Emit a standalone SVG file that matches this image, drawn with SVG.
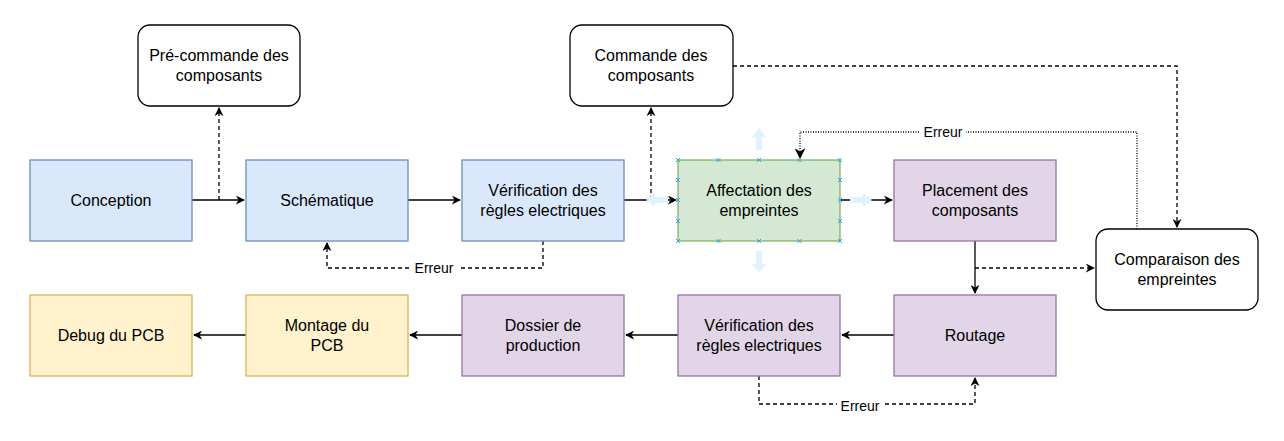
<svg xmlns="http://www.w3.org/2000/svg" width="1284" height="441" viewBox="0 0 1284 441">
<defs>
<style>
.n{stroke-width:1.3}
.blue{fill:#dae8fc;stroke:#6c8ebf}
.green{fill:#d5e8d4;stroke:#82b366}
.purple{fill:#e1d5e7;stroke:#9673a6}
.yellow{fill:#fff2cc;stroke:#d6b656}
.white{fill:#ffffff;stroke:#000000}
text{font-family:"Liberation Sans",Arial,sans-serif;font-size:16px;fill:#000;text-anchor:middle}
.lbl{font-size:14px}
.e{fill:none;stroke:#000;stroke-width:1.3}
.dash{stroke-dasharray:4,3}
.dot{stroke-dasharray:1,1.5}
.hx{stroke:#29a9e8;stroke-width:1}
.ha{fill:#dff2fd}
</style>
<marker id="ar" viewBox="0 0 10 10" refX="9" refY="5" markerWidth="9" markerHeight="9" markerUnits="userSpaceOnUse" orient="auto">
<path d="M0,0 L10,5 L0,10 L3,5 Z" fill="#000"/>
</marker>
<marker id="ar2" viewBox="0 0 10 10" refX="9" refY="5" markerWidth="11" markerHeight="11" markerUnits="userSpaceOnUse" orient="auto">
<path d="M0,0 L10,5 L0,10 L3,5 Z" fill="#000"/>
</marker>
</defs>

<g id="edges">
<path class="e" d="M192,200 H244" marker-end="url(#ar)"/>
<path class="e dash" d="M219,200 V108" marker-end="url(#ar)"/>
<path class="e" d="M408,200 H460" marker-end="url(#ar)"/>
<path class="e" d="M624,200 H676" marker-end="url(#ar)"/>
<path class="e dash" d="M651,200 V108" marker-end="url(#ar)"/>
<path class="e" d="M840,200 H892" marker-end="url(#ar)"/>
<path class="e dash" d="M543,241 V268 H327 V243" marker-end="url(#ar)"/>
<path class="e" d="M975,241 V293" marker-end="url(#ar)"/>
<path class="e dash" d="M975,268 H1094" marker-end="url(#ar)"/>
<path class="e dash" d="M733,66 H1177 V227" marker-end="url(#ar)"/>
<path class="e dot" d="M1137,229 V132 H800 V158" marker-end="url(#ar2)"/>
<path class="e" d="M894,335 H842" marker-end="url(#ar)"/>
<path class="e" d="M678,335 H626" marker-end="url(#ar)"/>
<path class="e" d="M462,335 H410" marker-end="url(#ar)"/>
<path class="e" d="M246,335 H194" marker-end="url(#ar)"/>
<path class="e dash" d="M759,376 V404 H975 V378" marker-end="url(#ar)"/>
<rect x="412" y="261" width="46" height="15" fill="#fff"/>
<text class="lbl" x="434" y="273">Erreur</text>
<rect x="920" y="125" width="46" height="15" fill="#fff"/>
<text class="lbl" x="943" y="137">Erreur</text>
<rect x="837" y="398" width="46" height="15" fill="#fff"/>
<text class="lbl" x="860" y="411">Erreur</text>
</g>

<g id="conception"><rect class="n blue" x="30" y="160" width="162" height="81"/><text x="111" y="206">Conception</text></g>
<g id="schematique"><rect class="n blue" x="246" y="160" width="162" height="81"/><text x="327" y="206">Schématique</text></g>
<g id="verif1"><rect class="n blue" x="462" y="160" width="162" height="81"/><text x="543" y="196">Vérification des</text><text x="543" y="215.5">règles electriques</text></g>
<g id="affectation"><rect class="n green" x="678" y="160" width="162" height="81"/><text x="759" y="196">Affectation des</text><text x="759" y="215.5">empreintes</text></g>
<g id="placement"><rect class="n purple" x="894" y="160" width="162" height="81"/><text x="975" y="196">Placement des</text><text x="975" y="215.5">composants</text></g>
<g id="precommande"><rect class="n white" x="138" y="25" width="162" height="81" rx="12"/><text x="219" y="61">Pré-commande des</text><text x="219" y="80.5">composants</text></g>
<g id="commande"><rect class="n white" x="570" y="25" width="163" height="81" rx="12"/><text x="651" y="61">Commande des</text><text x="651" y="80.5">composants</text></g>
<g id="comparaison"><rect class="n white" x="1096" y="229" width="162" height="81" rx="12"/><text x="1177" y="265">Comparaison des</text><text x="1177" y="284.5">empreintes</text></g>
<g id="debug"><rect class="n yellow" x="30" y="295" width="162" height="81"/><text x="111" y="341">Debug du PCB</text></g>
<g id="montage"><rect class="n yellow" x="246" y="295" width="162" height="81"/><text x="327" y="331">Montage du</text><text x="327" y="350.5">PCB</text></g>
<g id="dossier"><rect class="n purple" x="462" y="295" width="162" height="81"/><text x="543" y="331">Dossier de</text><text x="543" y="350.5">production</text></g>
<g id="verif2"><rect class="n purple" x="678" y="295" width="162" height="81"/><text x="759" y="331">Vérification des</text><text x="759" y="350.5">règles electriques</text></g>
<g id="routage"><rect class="n purple" x="894" y="295" width="162" height="81"/><text x="975" y="341">Routage</text></g>

<g id="selection">
<path class="ha" d="M759,128 L766,137 L762,137 L762,150 L756,150 L756,137 L752,137 Z"/>
<path class="ha" d="M759,273 L766,264 L762,264 L762,251 L756,251 L756,264 L752,264 Z"/>
<path class="ha" d="M646,200 L655,193 L655,197 L668,197 L668,203 L655,203 L655,207 Z"/>
<path class="ha" d="M872,200 L863,193 L863,197 L850,197 L850,203 L863,203 L863,207 Z"/>
<path class="hx" d="M676,158l4,4m0,-4l-4,4 M716.5,158l4,4m0,-4l-4,4 M757,158l4,4m0,-4l-4,4 M797.5,158l4,4m0,-4l-4,4 M838,158l4,4m0,-4l-4,4 M676,239l4,4m0,-4l-4,4 M716.5,239l4,4m0,-4l-4,4 M757,239l4,4m0,-4l-4,4 M797.5,239l4,4m0,-4l-4,4 M838,239l4,4m0,-4l-4,4 M676,178l4,4m0,-4l-4,4 M676,198l4,4m0,-4l-4,4 M676,219l4,4m0,-4l-4,4 M838,178l4,4m0,-4l-4,4 M838,198l4,4m0,-4l-4,4 M838,219l4,4m0,-4l-4,4"/>
</g>
</svg>
